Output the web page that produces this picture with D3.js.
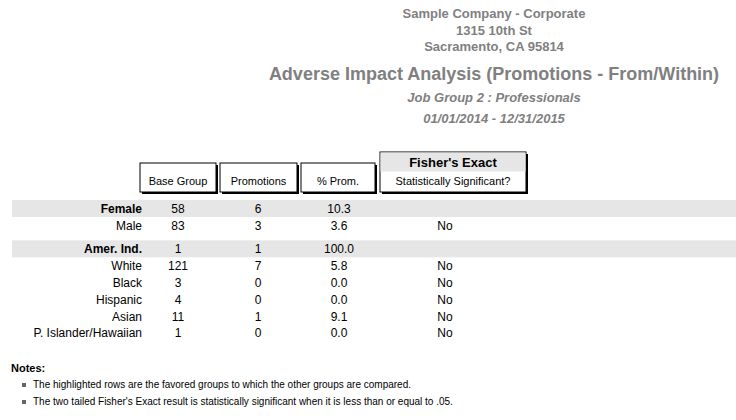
<!DOCTYPE html>
<html><head><meta charset="utf-8">
<script src="https://cdn.jsdelivr.net/npm/d3@7"></script>
<style>body{margin:0;background:#fff}text{font-family:Arial,"Liberation Sans",sans-serif}</style>
</head><body><svg id="c" width="736" height="420"></svg>
<script>
// report data
const headerLines = ["Sample Company  - Corporate", "1315 10th  St", "Sacramento, CA 95814"];
const reportTitle = "Adverse Impact Analysis (Promotions - From/Within)";
const jobGroup = "Job Group  2 : Professionals";
const dateRange = "01/01/2014 - 12/31/2015";
const columns = ["Base Group", "Promotions", "% Prom."];
const groups = ["Female", "Male", "Amer. Ind.", "White", "Black", "Hispanic", "Asian", "P. Islander/Hawaiian"];
const baseCounts = [58, 83, 1, 121, 3, 4, 11, 1];
const promotions = [6, 3, 1, 7, 0, 0, 1, 0];
const pctProm = ["10.3", "3.6", "100.0", "5.8", "0.0", "0.0", "9.1", "0.0"];
const significant = ["", "No", "", "No", "No", "No", "No", "No"];
const favored = [true, false, true, false, false, false, false, false];
const slot = [0, 1, 2.4, 3.4, 4.4, 5.4, 6.4, 7.4]; // row positions, gap between sections
const notes = ["The highlighted rows are the favored groups to which the other groups are compared.",
  "The two tailed Fisher's Exact result is statistically significant when it is less than or equal to .05."];

const svg = d3.select('#c');
const y = d3.scaleLinear().domain([0, 1]).range([209, 225.8]);
const colX = [178, 258, 339];

// heading
svg.selectAll('text.hd').data(headerLines).enter().append('text')
  .attr('x', 494).attr('y', (d, i) => 18 + i * 16.5).attr('text-anchor', 'middle')
  .attr('font-size', 13).attr('font-weight', 'bold').attr('fill', '#808080').text(d => d);
svg.append('text').attr('x', 494).attr('y', 80).attr('text-anchor', 'middle')
  .attr('font-size', 18).attr('font-weight', 'bold').attr('fill', '#808080').text(reportTitle);
[jobGroup, dateRange].forEach((t, i) => svg.append('text').attr('x', 494).attr('y', 102 + i * 21)
  .attr('text-anchor', 'middle').attr('font-size', 13).attr('font-weight', 'bold')
  .attr('font-style', 'italic').attr('fill', '#808080').text(t));

// column header boxes
function box(x, yy, w, h) {
  svg.append('rect').attr('x', x + 2).attr('y', yy + 2).attr('width', w).attr('height', h).attr('fill', '#000');
  svg.append('rect').attr('x', x).attr('y', yy).attr('width', w).attr('height', h)
    .attr('fill', '#fff').attr('stroke', '#000').attr('stroke-width', 1);
}
const boxX = [140, 220, 301];
const boxW = [76, 77, 74];
columns.forEach((c, i) => {
  box(boxX[i], 163, boxW[i], 29);
  svg.append('text').attr('x', boxX[i] + boxW[i] / 2).attr('y', 185).attr('text-anchor', 'middle')
    .attr('font-size', 11).text(c);
});
box(380, 152, 146, 40);
svg.append('rect').attr('x', 380.5).attr('y', 152.5).attr('width', 145).attr('height', 19).attr('fill', '#e6e6e6');
svg.append('text').attr('x', 453).attr('y', 167).attr('text-anchor', 'middle')
  .attr('font-size', 13).attr('font-weight', 'bold').text("Fisher's Exact");
svg.append('text').attr('x', 453).attr('y', 185).attr('text-anchor', 'middle')
  .attr('font-size', 11).text('Statistically Significant?');

// highlight bands
svg.selectAll('rect.band').data(slot.filter((s, i) => favored[i])).enter().append('rect')
  .attr('x', 12).attr('width', 724).attr('y', d => y(d) - 9).attr('height', 17).attr('fill', '#e6e6e6');

// rows
const rows = svg.selectAll('g.row').data(groups).enter().append('g')
  .attr('transform', (d, i) => `translate(0,${y(slot[i]) + 4})`);
rows.append('text').attr('x', 142).attr('text-anchor', 'end').attr('font-size', 12)
  .attr('font-weight', (d, i) => favored[i] ? 'bold' : 'normal').text(d => d);
[baseCounts, promotions, pctProm].forEach((arr, k) => rows.append('text')
  .attr('x', colX[k]).attr('text-anchor', 'middle').attr('font-size', 12).text((d, i) => arr[i]));
rows.append('text').attr('x', 445).attr('text-anchor', 'middle').attr('font-size', 12)
  .text((d, i) => significant[i]);

// notes
svg.append('text').attr('x', 11).attr('y', 372).attr('font-size', 11).attr('font-weight', 'bold').text('Notes:');
notes.forEach((n, i) => {
  svg.append('rect').attr('x', 22).attr('y', 383 + i * 17).attr('width', 4).attr('height', 4).attr('fill', '#666');
  svg.append('text').attr('x', 33).attr('y', 388 + i * 17).attr('font-size', 10).text(n);
});
</script></body></html>
